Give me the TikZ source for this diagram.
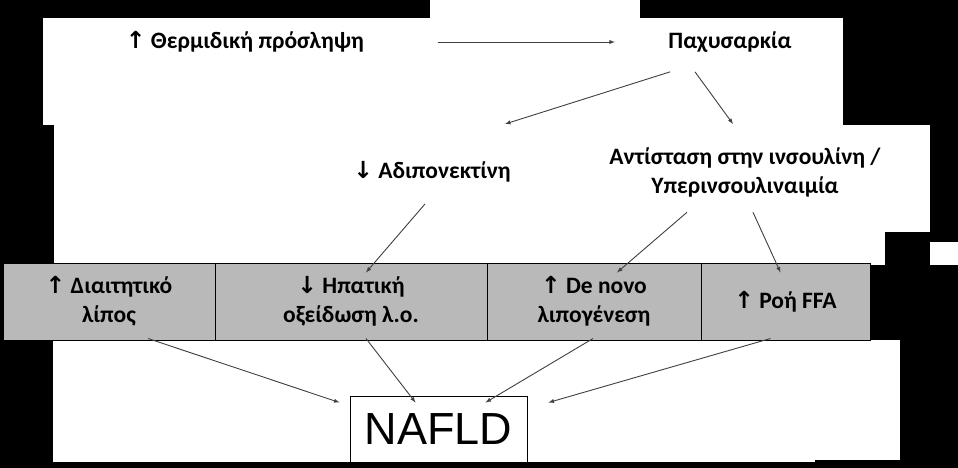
\documentclass[tikz,border=0pt]{standalone}
\usepackage{fontspec}
\setmainfont{Carlito}
\newfontfamily\arr{DejaVu Sans}
\newfontfamily\naf{Liberation Sans}
\usetikzlibrary{positioning}
\tikzset{>=latex}
\begin{document}
\begin{tikzpicture}[x=1pt, y=-1pt]
\tikzset{lbl/.style={font=\bfseries\fontsize{23.5}{29}\selectfont, align=center},
         cell/.style={draw=black, line width=1pt, fill=gray!55, minimum height=77pt, lbl},
         link/.style={->, draw=black!75, line width=0.9pt}}
    % background
    \fill[black] (0,0) rectangle (958,468);
    \fill[white] (430,0) rectangle (640,20);
    \fill[white] (43,18) rectangle (843,125);
    \fill[white] (54,125) rectangle (885,265);
    \fill[white] (885,125) rectangle (930,232);
    \fill[white] (930,242) rectangle (958,265);
    \fill[white] (53,340) rectangle (815,462);
    \fill[white] (815,340) rectangle (900,460);

    \node[lbl] (intake) at (245,42) {{\arr↑} Θερμιδική πρόσληψη};
    \node[lbl] (obesity) at (730,42) {Παχυσαρκία};
    \node[lbl] (adipo) at (432,172) {{\arr↓} Αδιπονεκτίνη};
    \node[lbl] (resist) at (745,172) {Αντίσταση στην ινσουλίνη /\\Υπερινσουλιναιμία};

    \node[cell, minimum width=212pt] (fat) at (109,301.5) {{\arr↑} Διαιτητικό\\λίπος};
    \node[cell, minimum width=272pt, right=-1pt of fat] (oxid) {{\arr↓} Ηπατική\\οξείδωση λ.ο.};
    \node[cell, minimum width=214pt, right=-1pt of oxid] (lipo) {{\arr↑} De novo\\λιπογένεση};
    \node[cell, minimum width=169pt, right=-1pt of lipo] (ffa) {{\arr↑} Ροή FFA};

    \node[draw=black, line width=1pt, fill=white, minimum width=177pt, minimum height=66pt,
          font=\naf\fontsize{45}{54}\selectfont] (nafld) at (438.5,429) {NAFLD};

    \draw[link] ([xshift=70pt]intake.east) -- ([xshift=-50pt]obesity.west);
    \draw[link] ([xshift=-60pt,yshift=-16pt]obesity.south) -- (505,124);
    \draw[link] ([xshift=-35pt,yshift=-16pt]obesity.south) -- (733,124);
    \draw[link] ([xshift=-7pt,yshift=-18pt]adipo.south) -- ([xshift=15pt,yshift=-10pt]oxid.north);
    \draw[link] ([xshift=-58pt,yshift=-12pt]resist.south) -- ([xshift=23pt,yshift=-10pt]lipo.north);
    \draw[link] ([xshift=8pt,yshift=-12pt]resist.south) -- ([xshift=-5pt,yshift=-10pt]ffa.north);
    \draw[link] ([xshift=39pt,yshift=2pt]fat.south) -- ([xshift=-10pt,yshift=-7pt]nafld.north west);
    \draw[link] ([xshift=15pt,yshift=2pt]oxid.south) -- ([xshift=-23pt,yshift=-7pt]nafld.north);
    \draw[link] ([xshift=-1pt,yshift=2pt]lipo.south) -- ([xshift=47pt,yshift=-7pt]nafld.north);
    \draw[link] ([xshift=-15pt,yshift=2pt]ffa.south) -- ([xshift=21pt,yshift=-7pt]nafld.north east);
\end{tikzpicture}
\end{document}
